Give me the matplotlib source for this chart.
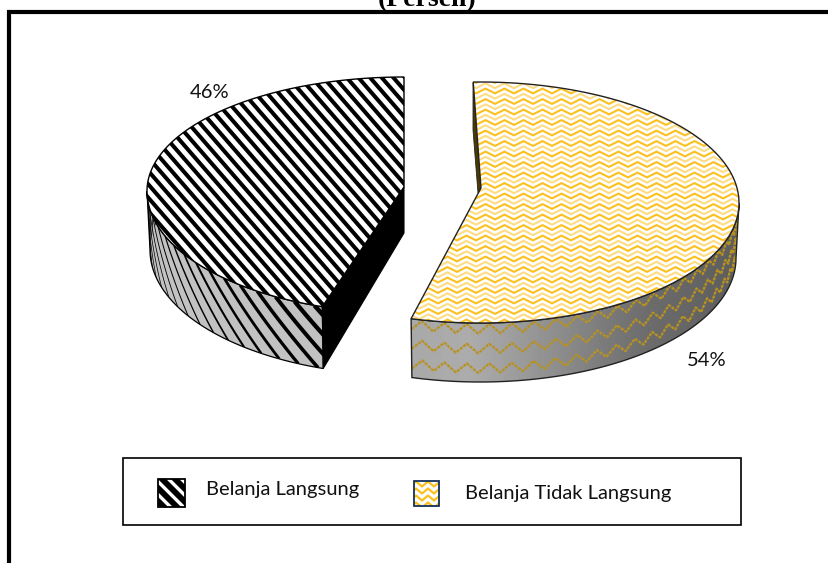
import numpy as np
import matplotlib
matplotlib.use('Agg')
import matplotlib.pyplot as plt
from matplotlib.patches import Polygon, Rectangle

labels = ['Belanja Langsung', 'Belanja Tidak Langsung']
values = [46, 54]
pct_labels = ['46%', '54%']
title = '(Persen)'

GOLD = '#fcc01e'
GOLD_DARK = '#b8921f'

fig = plt.figure(figsize=(8.29, 5.63), dpi=100)
ax = fig.add_axes([0, 0, 1, 1])
ax.set_xlim(0, 829)
ax.set_ylim(563, 0)
ax.axis('off')


def arc(cx, cy, a, b_up, b_dn, t0, t1, n=160):
    t = np.radians(np.linspace(t0, t1, n))
    s = np.sin(t)
    b = np.where(s > 0, b_up, b_dn)
    return np.column_stack([cx + a * np.cos(t), cy - b * s])


def clip_to(artist_list, patch):
    for art in artist_list:
        art.set_clip_path(patch)


# outer frame, no right or bottom side in the source
ax.plot([9.5, 9.5, 829], [563, 12, 12], color='black', lw=3, solid_joinstyle='miter', zorder=1)
ax.text(427, 6, title, ha='center', va='baseline', fontsize=20, fontweight='bold', family='Liberation Serif')

# slice angles come from the values, the 3d view squeezes them a little
left_start = 90
left_end = left_start + values[0] * 3.6 * 0.975
right_start = 91.5
right_end = right_start - values[1] * 3.6 * 1.013

# left slice
L_TOP = (404, 191, 257, 114, 122)
L_BOT = (404, 250, 254, 125, 125)
L_APEX_TOP = (404, 187)
L_APEX_BOT = (404, 233)

wall = np.vstack([arc(*L_TOP, 180, left_end), arc(*L_BOT, left_end, 180)])
wall_patch = Polygon(wall, closed=True, facecolor='#c2c2c2', edgecolor='black', lw=0.9, zorder=2)
ax.add_patch(wall_patch)

for t0 in np.arange(120, 270, 4.8):
    h = np.linspace(0, 1, 12)
    t = t0 + 15 * h
    top = arc(*L_TOP, t.min(), t.max(), 12)
    bot = arc(*L_BOT, t.min(), t.max(), 12)
    pts = top * (1 - h)[:, None] + bot * h[:, None]
    mid = np.radians(t.mean())
    width = 0.5 + 3.0 * abs(np.sin(mid)) ** 3
    line = ax.plot(pts[:, 0], pts[:, 1], color='black', lw=width, zorder=2.1, solid_capstyle='butt')
    clip_to(line, wall_patch)

end_top = arc(*L_TOP, left_end, left_end, 1)[0]
end_bot = arc(*L_BOT, left_end, left_end, 1)[0]
ax.add_patch(Polygon([L_APEX_TOP, end_top, end_bot, L_APEX_BOT], closed=True,
                     facecolor='black', edgecolor='black', lw=0.8, zorder=2.2))

top_pts = np.vstack([[L_APEX_TOP], arc(*L_TOP, left_start, left_end)])
top_patch = Polygon(top_pts, closed=True, facecolor='white', edgecolor='none', zorder=3)
ax.add_patch(top_patch)
for off in np.arange(-300, 700, 13.4):
    line = ax.plot([100, 460], [off, off + 414], color='black', lw=2.9, zorder=3.1, solid_capstyle='butt')
    clip_to(line, top_patch)
ax.add_patch(Polygon(top_pts, closed=True, facecolor='none', edgecolor='black', lw=1.0, zorder=3.2))

# right slice
R_TOP = (480, 203, 259, 121, 120)
R_BOT = (480, 258, 256, 124, 124)
R_APEX = (481, 188)

wall = np.vstack([arc(*R_TOP, right_end, 0), arc(*R_BOT, 0, right_end)])
wall_patch = Polygon(wall, closed=True, facecolor='none', edgecolor='none', zorder=2)
ax.add_patch(wall_patch)
shade_x = np.array([405, 470, 540, 600, 650, 700, 742])
shade_v = np.array([168, 172, 148, 125, 108, 100, 92])
grad = np.interp(np.arange(405, 742), shade_x, shade_v).reshape(1, -1) / 255
img = ax.imshow(grad, cmap='gray', vmin=0, vmax=1, extent=[405, 742, 390, 200], aspect='auto', zorder=2)
img.set_clip_path(wall_patch)
ax.set_xlim(0, 829)
ax.set_ylim(563, 0)

for h0 in np.arange(0.0, 1.2, 1 / 3):
    t = np.arange(right_end, 2, 2.5)
    tri = np.where(np.arange(len(t)) % 2 == 0, 0.08, -0.08)
    h = h0 + 0.1 + tri
    rad = np.radians(t)
    top = np.column_stack([R_TOP[0] + R_TOP[2] * np.cos(rad), R_TOP[1] - R_TOP[4] * np.sin(rad)])
    bot = np.column_stack([R_BOT[0] + R_BOT[2] * np.cos(rad), R_BOT[1] - R_BOT[4] * np.sin(rad)])
    pts = top * (1 - h)[:, None] + bot * h[:, None]
    line = ax.plot(pts[:, 0], pts[:, 1], color=GOLD_DARK, lw=1.6, zorder=2.1, ls=(0, (1.4, 0.5)))
    clip_to(line, wall_patch)
ax.add_patch(Polygon(wall, closed=True, facecolor='none', edgecolor='#222222', lw=1.0, zorder=2.2))

# thin inner wall next to the gap
ax.add_patch(Polygon([(473, 83), (476.5, 85), (R_APEX[0], R_APEX[1]), (478, 193), (473, 130)], closed=True,
                     facecolor='#4a3a00', edgecolor='#222222', lw=0.6, zorder=2.3))

top_pts = np.vstack([[R_APEX], arc(*R_TOP, right_end, right_start)])
top_patch = Polygon(top_pts, closed=True, facecolor='white', edgecolor='none', zorder=3)
ax.add_patch(top_patch)
for row, y0 in enumerate(np.arange(70, 340, 5.25)):
    x = np.arange(400, 760, 9.5)
    y = y0 + np.where(np.arange(len(x)) % 2 == 0, 2.4, -2.4)
    alpha = 1.0 if row % 2 == 0 else 0.55
    line = ax.plot(x, y, color=GOLD, lw=1.5, alpha=alpha, zorder=3.1)
    clip_to(line, top_patch)
ax.add_patch(Polygon(top_pts, closed=True, facecolor='none', edgecolor='#222222', lw=1.0, zorder=3.2))

# percent labels
ax.text(210, 92, pct_labels[0], ha='center', va='center', fontsize=14.5, family='Lato', color='#111111')
ax.text(707, 361, pct_labels[1], ha='center', va='center', fontsize=14.5, family='Lato', color='#111111')

# legend box
ax.add_patch(Rectangle((123.5, 458), 617.5, 67, facecolor='white', edgecolor='black', lw=1.2, zorder=4))

sw = Rectangle((158, 479), 27, 28, facecolor='white', edgecolor='none', zorder=4.1)
ax.add_patch(sw)
for off in np.arange(-30, 30, 13):
    line = ax.plot([150, 195], [479 + off - 8, 479 + off + 37], color='black', lw=4.2, zorder=4.2, solid_capstyle='butt')
    clip_to(line, sw)
ax.add_patch(Rectangle((158, 479), 27, 28, facecolor='none', edgecolor='black', lw=1.3, zorder=4.3))

sw = Rectangle((414, 481), 25, 25, facecolor='white', edgecolor='none', zorder=4.1)
ax.add_patch(sw)
for y0 in np.arange(484, 510, 7):
    x = np.arange(410, 445, 6)
    y = y0 + np.where(np.arange(len(x)) % 2 == 0, 2.5, -2.5)
    line = ax.plot(x, y, color=GOLD, lw=1.6, zorder=4.2)
    clip_to(line, sw)
ax.add_patch(Rectangle((414, 481), 25, 25, facecolor='none', edgecolor='#14305f', lw=1.3, zorder=4.3))

ax.text(206, 490, labels[0], ha='left', va='center', fontsize=14.5, family='Lato', color='#111111', zorder=5)
ax.text(465, 494, labels[1], ha='left', va='center', fontsize=14.5, family='Lato', color='#111111', zorder=5)

fig.savefig('out.png', dpi=100)
